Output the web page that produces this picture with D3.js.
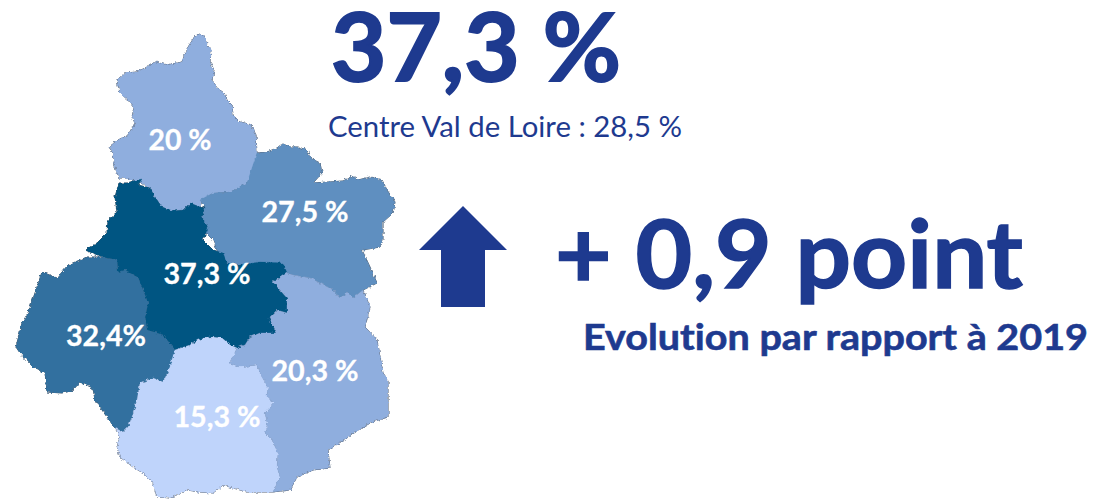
<!DOCTYPE html>
<html>
<head>
<meta charset="utf-8">
<script src="https://cdn.jsdelivr.net/npm/d3@7"></script>
<style>
  html, body { margin: 0; padding: 0; background: #fff; }
  text { font-family: Lato, "Open Sans", sans-serif; font-variant-ligatures: none; }
</style>
</head>
<body>
<div id="chart"></div>
<script>
// Data
var departments = ["Eure-et-Loir", "Loiret", "Loir-et-Cher", "Indre-et-Loire", "Indre", "Cher"];
var values = [20, 27.5, 37.3, 32.4, 15.3, 20.3];
var valueLabels = ["20 %", "27,5 %", "37,3 %", "32,4%", "15,3 %", "20,3 %"];

// Outlines (lon/lat stand-ins, in map units)
var eureEtLoir = [[195,36],[200,34],[205,37],[207,45],[211,50],[210,62],[214,70],[212,80],[217,88],[224,93],[227,100],[232,105],[233,115],[240,122],[251,125],[256,135],[257,153],[255,167],[247,183],[230,192],[213,193],[202,200],[200,207],[190,203],[183,210],[173,211],[162,207],[155,197],[150,188],[142,183],[133,180],[127,178],[119,178],[115,167],[113,153],[109,147],[118,140],[128,135],[135,123],[132,117],[134,108],[128,100],[120,93],[117,80],[125,73],[137,72],[147,67],[155,62],[167,65],[182,62],[185,52],[197,45]];
var loiret = [[257,153],[267,152],[277,148],[283,144],[290,147],[298,147],[307,150],[310,158],[320,163],[322,173],[313,183],[328,182],[343,181],[353,176],[358,180],[370,177],[382,180],[387,190],[395,202],[393,213],[383,222],[383,240],[380,247],[362,250],[370,267],[377,283],[363,290],[353,298],[347,292],[340,298],[333,290],[320,283],[310,278],[293,275],[287,273],[283,265],[260,265],[240,267],[227,263],[217,250],[213,240],[203,230],[208,228],[202,217],[205,208],[200,200],[213,193],[230,192],[247,183],[255,167]];
var loirEtCher = [[119,183],[127,183],[137,180],[142,179],[138,185],[150,188],[155,197],[162,207],[173,211],[183,210],[190,203],[200,207],[205,208],[202,217],[208,228],[203,240],[213,250],[223,253],[227,263],[240,265],[260,262],[283,263],[287,273],[273,282],[280,290],[287,298],[287,313],[277,310],[269,318],[277,333],[260,333],[250,337],[245,345],[237,348],[230,345],[222,338],[210,337],[198,340],[190,345],[175,350],[163,335],[147,330],[145,317],[148,303],[143,290],[138,277],[125,270],[118,272],[117,260],[103,257],[85,250],[97,243],[107,233],[108,220],[117,212],[115,197],[113,190]];
var indreEtLoire = [[68,265],[87,257],[100,257],[117,260],[118,272],[125,270],[138,277],[143,290],[148,303],[145,317],[147,330],[163,335],[175,350],[177,365],[168,372],[163,382],[153,378],[140,383],[137,400],[132,417],[128,427],[123,432],[115,428],[107,417],[95,400],[93,388],[80,382],[73,390],[62,393],[47,392],[45,373],[33,367],[20,353],[16,347],[22,323],[28,313],[35,293],[42,272],[57,278],[60,267]];
var indre = [[175,350],[190,345],[198,340],[210,337],[222,338],[230,345],[237,348],[230,363],[240,367],[257,365],[262,377],[268,387],[267,397],[274,403],[265,413],[268,427],[265,433],[272,440],[278,453],[277,467],[280,477],[273,492],[247,492],[223,485],[213,493],[200,492],[187,490],[170,498],[157,497],[153,483],[143,473],[133,467],[120,457],[117,447],[120,437],[115,428],[123,432],[128,427],[132,417],[137,400],[140,383],[153,378],[163,382],[168,372],[177,365]];
var cher = [[273,282],[287,273],[293,275],[310,278],[320,283],[333,290],[340,298],[347,292],[353,298],[363,290],[370,307],[365,327],[377,340],[383,373],[388,380],[388,417],[372,422],[353,433],[347,438],[328,450],[330,468],[313,470],[297,477],[290,490],[273,492],[280,477],[277,467],[278,453],[272,440],[265,433],[268,427],[265,413],[274,403],[267,397],[268,387],[262,377],[257,365],[240,367],[230,363],[237,348],[245,345],[250,337],[260,333],[277,333],[269,318],[277,310],[287,313],[287,298],[280,290]];
var outlines = [eureEtLoir, loiret, loirEtCher, indreEtLoire, indre, cher];

// Global constants
var svgWidth = 1104;
var svgHeight = 501;
var blue = "#1e3a8f";

var svg = d3.select("#chart").append("svg")
    .attr("width", svgWidth)
    .attr("height", svgHeight);

// Rough edge for the map outlines
var filter = svg.append("defs").append("filter")
    .attr("id", "rough")
    .attr("x", "-5%").attr("y", "-5%")
    .attr("width", "110%").attr("height", "110%");
filter.append("feTurbulence")
    .attr("type", "fractalNoise")
    .attr("baseFrequency", 0.32)
    .attr("numOctaves", 2)
    .attr("seed", 4)
    .attr("result", "noise");
filter.append("feDisplacementMap")
    .attr("in", "SourceGraphic")
    .attr("in2", "noise")
    .attr("scale", 4)
    .attr("xChannelSelector", "R")
    .attr("yChannelSelector", "G");

// Scales
var colorScale = d3.scaleThreshold()
    .domain([18, 25, 30, 35])
    .range(["#bfd4fb", "#8faede", "#5f8fc0", "#30709f", "#015482"]);

// Map
var features = departments.map((name, i) => ({
    type: "Feature",
    properties: {name: name, value: values[i]},
    geometry: {type: "Polygon", coordinates: [outlines[i]]}
}));
var path = d3.geoPath(d3.geoIdentity());

var mapG = svg.append("g")
    .attr("filter", "url(#rough)");

// stroke layer sits below the fills so only the outer edge shows
mapG.selectAll(".edge")
    .data(features)
    .enter().append("path")
    .attr("class", "edge")
    .attr("d", path)
    .attr("fill", "none")
    .attr("stroke", "#4b5563")
    .attr("stroke-width", 1);

mapG.selectAll(".dept")
    .data(features)
    .enter().append("path")
    .attr("class", "dept")
    .attr("d", path)
    .attr("fill", d => colorScale(d.properties.value))
    .attr("stroke", d => colorScale(d.properties.value))
    .attr("stroke-width", 0.3);

// Value labels
var labelX = [180, 305, 207, 106, 217, 315];
var labelY = [150, 222, 284, 346, 427, 381];
var labelW = [63, 87, 87, 80, 87, 87];
svg.selectAll(".value_label")
    .data(valueLabels)
    .enter().append("text")
    .attr("class", "value_label")
    .attr("x", (d,i) => labelX[i])
    .attr("y", (d,i) => labelY[i])
    .attr("text-anchor", "middle")
    .attr("font-size", 28)
    .attr("font-weight", 700)
    .attr("fill", "#fff")
    .attr("stroke", "#fff")
    .attr("stroke-width", 0.3)
    .attr("textLength", (d,i) => labelW[i])
    .attr("lengthAdjust", "spacingAndGlyphs")
    .text(d => d);

// Headline texts
function addText(str, x, y, size, weight, w, thick) {
    svg.append("text")
        .attr("x", x)
        .attr("y", y)
        .attr("font-size", size)
        .attr("font-weight", weight)
        .attr("fill", blue)
        .attr("stroke", blue)
        .attr("stroke-width", thick)
        .attr("textLength", w)
        .attr("lengthAdjust", "spacingAndGlyphs")
        .text(str);
}
addText("37,3 %", 331, 81, 94, 700, 290, 2);
addText("Centre Val de Loire : 28,5 %", 328, 137, 29, 400, 354, 0);
addText("+ 0,9 point", 555, 288, 94, 700, 468, 1.5);
addText("Evolution par rapport à 2019", 583, 350, 36, 700, 505, 0.6);

// Arrow
var arrowTop = 206, arrowShoulder = 250, arrowBottom = 307;
var arrowCx = 463, arrowHalf = 44, stemHalf = 22;
var arrowLine = d3.line();
svg.append("path")
    .attr("d", arrowLine([
        [arrowCx, arrowTop],
        [arrowCx + arrowHalf, arrowShoulder],
        [arrowCx + stemHalf, arrowShoulder],
        [arrowCx + stemHalf, arrowBottom],
        [arrowCx - stemHalf, arrowBottom],
        [arrowCx - stemHalf, arrowShoulder],
        [arrowCx - arrowHalf, arrowShoulder]
    ]) + "Z")
    .attr("fill", blue);
</script>
</body>
</html>
